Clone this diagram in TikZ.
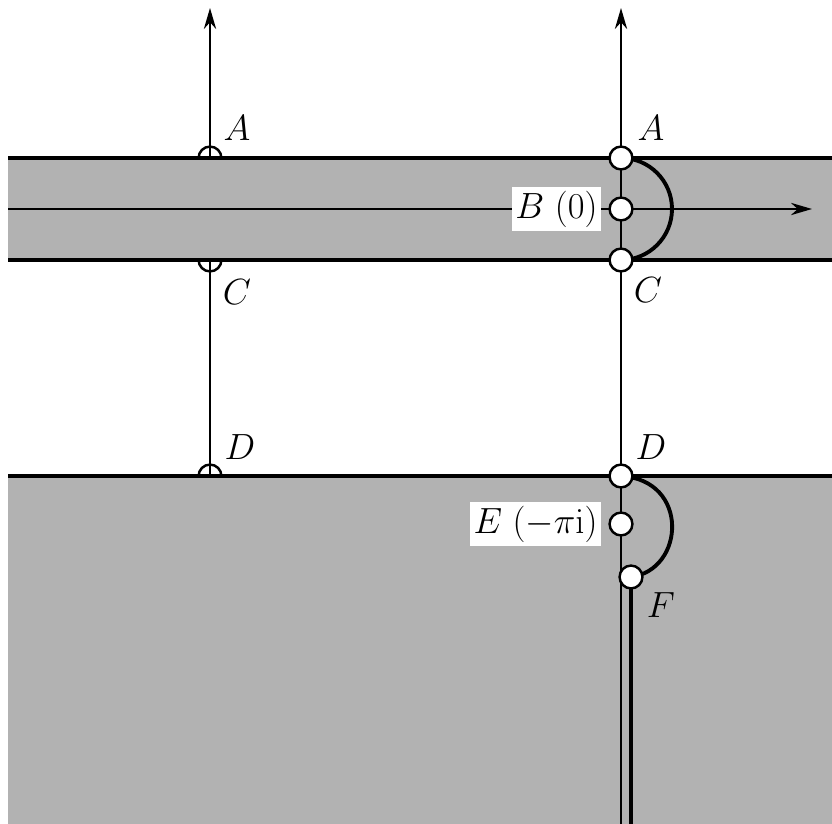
\documentclass[tikz,border=0pt]{standalone}
\usepackage{tikz}
\usetikzlibrary{arrows.meta,positioning}
\tikzset{
  edge/.style={line width=2.2pt},
  axis/.style={line width=1.2pt,-{Stealth[length=12pt,width=7pt]}},
  pt/.style={circle,draw,fill=white,line width=1.4pt,minimum size=13pt,inner sep=0pt},
  lbl/.style={font=\fontsize{20}{24}\selectfont},
  tag/.style={font=\fontsize{20}{24}\selectfont,fill=white,inner sep=2pt}
}
\begin{document}
\begin{tikzpicture}[x=0.02cm,y=-0.02cm]
\useasboundingbox (0,0) rectangle (832,824);
% left vertical line and half-hidden points
\coordinate (ltop) at (210,8);
\node (lA) [pt] at (210,158) {};
\node (lC) [pt] at (210,260) {};
\node (lD) [pt] at (210,476) {};
\draw [axis] (lD.center) -- (ltop);
% shaded regions
\fill [gray!60] (8,158) rectangle (832,260);
\fill [gray!60] (8,476) rectangle (832,824);
\draw [edge] (8,158) -- (832,158);
\draw [edge] (8,260) -- (832,260);
\draw [edge] (8,476) -- (832,476);
% horizontal axis
\coordinate (hl) at (8,209);
\coordinate (hr) at (812,209);
\draw [axis] (hl) -- (hr);
% right vertical line
\coordinate (rbot) at (621,824);
\coordinate (rtop) at (621,8);
\coordinate (fbot) at (631,824);
\draw [axis] (rbot) -- (rtop);
\draw [edge] (631,577) -- (fbot);
% indentations
\draw [edge] (621,158) arc (-90:90:51);
\draw [edge] (621,476) .. controls (690,480) and (685,570) .. (631,577);
% points
\node (A) [pt] at (621,158) {};
\node (B) [pt] at (621,209) {};
\node (C) [pt] at (621,260) {};
\node (D) [pt] at (621,476) {};
\node (E) [pt] at (621,524) {};
\node (F) [pt] at (631,577) {};
% labels
\node [lbl] at (237,128) {$A$};
\node [lbl] at (237,292) {$C$};
\node [lbl] at (240,447) {$D$};
\node [lbl] at (651,128) {$A$};
\node [lbl] at (648,290) {$C$};
\node [lbl] at (651,447) {$D$};
\node [lbl] at (661,605) {$F$};
\node [tag,left=4pt of B] {$B\ (0)$};
\node [tag,left=4pt of E] {$E\ (-\pi\mathrm{i})$};
\end{tikzpicture}
\end{document}
